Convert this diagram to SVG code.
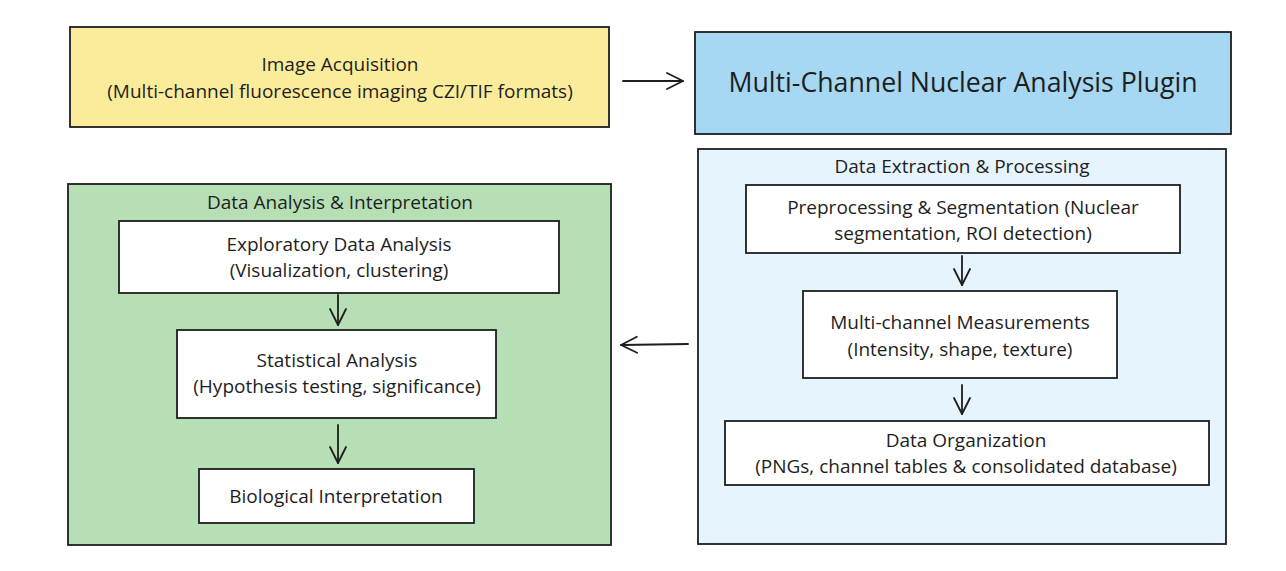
<svg xmlns="http://www.w3.org/2000/svg" width="1286" height="571" viewBox="0 0 1286 571">
<defs>
<style>
.box{stroke:#1e1e1e;stroke-width:1.8;}
.t{font-family:"Open Sans","Noto Sans","Liberation Sans",sans-serif;font-size:19px;fill:#1e1e1e;text-anchor:middle;}
.big{font-size:26.7px;}
.c{fill:none;stroke:#1e1e1e;stroke-width:1.8;stroke-linecap:round;stroke-linejoin:round;}
</style>
<marker id="ah" viewBox="0 0 20 20" refX="18" refY="10" markerWidth="20" markerHeight="20" markerUnits="userSpaceOnUse" orient="auto">
<path d="M2,2 L18,10 L2,18" fill="none" stroke="#1e1e1e" stroke-width="1.8" stroke-linecap="round" stroke-linejoin="round"/>
</marker>
</defs>
<rect width="1286" height="571" fill="#ffffff"/>

<g id="acq">
<rect class="box" x="70" y="27" width="539" height="100" fill="#fbec9b"/>
<text class="t" x="340" y="71">Image Acquisition</text>
<text class="t" x="340" y="98">(Multi-channel fluorescence imaging CZI/TIF formats)</text>
</g>

<g id="plugin">
<rect class="box" x="695" y="32" width="536" height="102" fill="#a6d8f4"/>
<text class="t big" x="963" y="92">Multi-Channel Nuclear Analysis Plugin</text>
</g>

<g id="extraction">
<rect class="box" x="698" y="149" width="528" height="395" fill="#e6f4fd"/>
<text class="t" x="962" y="173">Data Extraction &amp; Processing</text>
</g>

<g id="preproc">
<rect class="box" x="746" y="185" width="434" height="68" fill="#ffffff"/>
<text class="t" x="963" y="214">Preprocessing &amp; Segmentation (Nuclear</text>
<text class="t" x="963" y="240">segmentation, ROI detection)</text>
</g>

<g id="measure">
<rect class="box" x="803" y="291" width="314" height="87" fill="#ffffff"/>
<text class="t" x="960" y="329">Multi-channel Measurements</text>
<text class="t" x="960" y="356">(Intensity, shape, texture)</text>
</g>

<g id="organize">
<rect class="box" x="725" y="421" width="484" height="64" fill="#ffffff"/>
<text class="t" x="966" y="447">Data Organization</text>
<text class="t" x="966" y="473">(PNGs, channel tables &amp; consolidated database)</text>
</g>

<g id="analysis">
<rect class="box" x="68" y="184" width="543" height="361" fill="#b6dfb5"/>
<text class="t" x="340" y="209">Data Analysis &amp; Interpretation</text>
</g>

<g id="eda">
<rect class="box" x="119" y="221" width="440" height="72" fill="#ffffff"/>
<text class="t" x="339" y="251">Exploratory Data Analysis</text>
<text class="t" x="339" y="277">(Visualization, clustering)</text>
</g>

<g id="stats">
<rect class="box" x="177" y="330" width="319" height="88" fill="#ffffff"/>
<text class="t" x="337" y="367">Statistical Analysis</text>
<text class="t" x="337" y="393">(Hypothesis testing, significance)</text>
</g>

<g id="bio">
<rect class="box" x="199" y="469" width="275" height="54" fill="#ffffff"/>
<text class="t" x="336" y="503">Biological Interpretation</text>
</g>

<g id="connectors">
<path class="c" d="M623,81 L683,81" marker-end="url(#ah)"/>
<path class="c" d="M962,256 L962,285" marker-end="url(#ah)"/>
<path class="c" d="M962,385 L962,414" marker-end="url(#ah)"/>
<path class="c" d="M688,344 L621,345" marker-end="url(#ah)"/>
<path class="c" d="M338,295 L338,325" marker-end="url(#ah)"/>
<path class="c" d="M338,425 L338,463" marker-end="url(#ah)"/>
</g>
</svg>
